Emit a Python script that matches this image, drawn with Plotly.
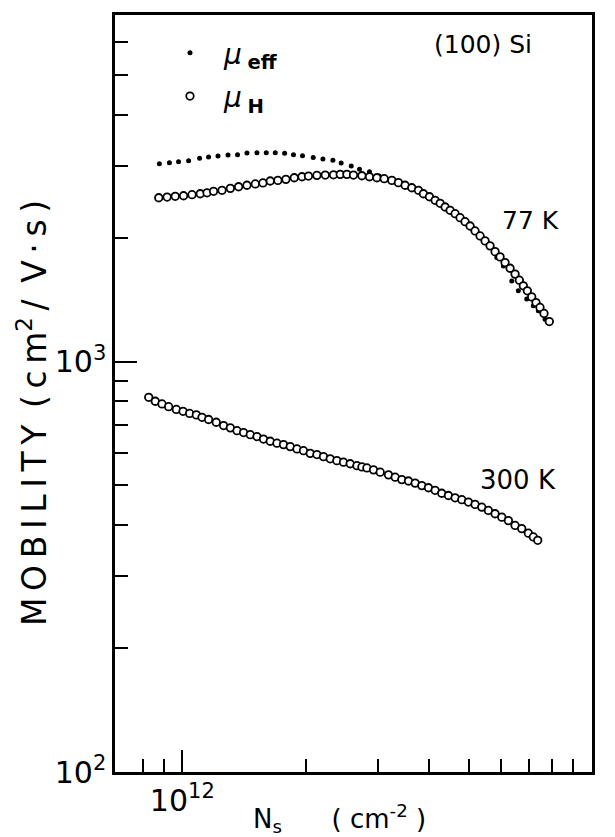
import math
import plotly.graph_objects as go

# ---- data (N_s in units of 1e12 cm^-2, mobility in cm^2/V.s) ----
N_UNIT = 1e12

ns_77_eff = [0.879, 0.930, 0.979, 1.036, 1.102, 1.159, 1.222, 1.293, 1.364, 1.438,
             1.521, 1.603, 1.686, 1.777, 1.868, 1.965, 2.087, 2.204, 2.331, 2.442,
             2.584, 2.707, 2.863, 3.024, 3.198, 3.382, 3.578, 3.764, 3.959, 4.164,
             4.380, 4.607, 4.846, 5.097, 5.361, 5.608, 5.856, 6.077, 6.370, 6.610,
             6.929, 7.192, 7.396, 7.681]
mu_77_eff = [3037, 3054, 3072, 3089, 3131, 3154, 3171, 3189, 3195, 3225,
             3231, 3231, 3231, 3220, 3195, 3177, 3148, 3119, 3096, 3050,
             2999, 2944, 2904, 2835, 2780, 2719, 2659, 2600, 2527, 2451,
             2370, 2291, 2203, 2107, 2003, 1905, 1794, 1712, 1574, 1489,
             1421, 1369, 1331, 1270]

ns_77_hall = [0.876, 0.918, 0.961, 1.007, 1.056, 1.106, 1.149, 1.192, 1.250, 1.310,
              1.372, 1.438, 1.507, 1.573, 1.639, 1.711, 1.790, 1.876, 1.959, 2.032,
              2.131, 2.233, 2.339, 2.429, 2.522, 2.617, 2.744, 2.863, 2.985, 3.110,
              3.247, 3.369, 3.498, 3.632, 3.770, 3.877, 4.011, 4.141, 4.259, 4.380,
              4.505, 4.633, 4.764, 4.900, 5.040, 5.183, 5.331, 5.483, 5.639, 5.800,
              5.965, 6.135, 6.310, 6.490, 6.648, 6.798, 6.953, 7.126, 7.300, 7.466,
              7.636, 7.868]
mu_77_hall = [2510, 2520, 2530, 2538, 2553, 2567, 2581, 2602, 2617, 2646,
              2670, 2692, 2712, 2727, 2757, 2767, 2783, 2808, 2824, 2835,
              2846, 2851, 2855, 2862, 2862, 2851, 2840, 2824, 2808, 2793,
              2767, 2732, 2692, 2655, 2617, 2567, 2524, 2474, 2433, 2383,
              2339, 2295, 2244, 2194, 2142, 2083, 2026, 1970, 1916, 1855,
              1801, 1744, 1690, 1635, 1580, 1531, 1489, 1439, 1394, 1356,
              1311, 1253]

ns_300_hall = [0.828, 0.859, 0.892, 0.926, 0.967, 1.004, 1.042, 1.082, 1.117, 1.159,
               1.210, 1.261, 1.310, 1.360, 1.411, 1.465, 1.521, 1.578, 1.639, 1.702,
               1.766, 1.834, 1.905, 1.976, 2.052, 2.131, 2.211, 2.296, 2.384, 2.474,
               2.569, 2.668, 2.744, 2.822, 2.929, 3.041, 3.186, 3.308, 3.434, 3.565,
               3.701, 3.843, 3.988, 4.141, 4.298, 4.462, 4.633, 4.811, 4.992, 5.183,
               5.383, 5.586, 5.800, 6.024, 6.251, 6.490, 6.737, 6.993, 7.192, 7.371]
mu_300_hall = [819, 801, 789, 777, 765, 757, 748, 742, 732, 723,
               712, 699, 690, 679, 672, 664, 657, 648, 640, 633,
               628, 621, 613, 607, 598, 594, 587, 580, 574, 569,
               564, 558, 554, 551, 545, 538, 530, 523, 516, 512,
               506, 499, 493, 486, 478, 472, 466, 461, 455, 449,
               442, 434, 426, 418, 410, 399, 392, 382, 374, 367]

x_major_vals = [1e12, 1e13]
x_major_text = ["10<sup>12</sup>", "10<sup>13</sup>"]
x_minor_vals = [8e11, 9e11, 2e12, 3e12, 4e12, 5e12, 6e12, 7e12, 8e12, 9e12]
y_major_vals = [1e2, 1e3]
y_major_text = ["10<sup>2</sup>", "10<sup>3</sup>"]
y_minor_vals = [200, 300, 400, 500, 600, 700, 800, 900, 2000, 3000, 4000, 5000, 6000]

FONT = "DejaVu Sans"
TS = "\u2009"  # thin space used for letter spacing


def spaced(s):
    return TS.join(list(s))


fig = go.Figure()
fig.add_trace(go.Scatter(
    x=[v * N_UNIT for v in ns_77_eff], y=mu_77_eff, mode="markers",
    name="\u2002<i>μ</i>\u2009<sub><b>eff</b></sub>", legendgroup="a",
    marker=dict(symbol="circle", size=5, color="black", line=dict(width=0)),
))
fig.add_trace(go.Scatter(
    x=[v * N_UNIT for v in ns_77_hall], y=mu_77_hall, mode="markers",
    name="\u2002<i>μ</i>\u2009<sub><b>H</b></sub>", legendgroup="b",
    marker=dict(symbol="circle", size=7.5, color="white",
                line=dict(width=1.8, color="black")),
))
fig.add_trace(go.Scatter(
    x=[v * N_UNIT for v in ns_300_hall], y=mu_300_hall, mode="markers",
    showlegend=False,
    marker=dict(symbol="circle", size=7.5, color="white",
                line=dict(width=1.8, color="black")),
))

axis_common = dict(
    type="log", showline=True, linecolor="black", linewidth=2.5, mirror=True,
    ticks="inside", ticklen=22, tickwidth=2, tickcolor="black",
    showgrid=False, zeroline=False, tickmode="array",
    tickfont=dict(family=FONT, size=30, color="black"),
)
fig.update_xaxes(
    **axis_common, range=[math.log10(6.85e11), 13],
    tickvals=x_major_vals, ticktext=x_major_text,
    minor=dict(tickmode="array", tickvals=x_minor_vals, ticks="inside",
               ticklen=13, tickwidth=2, tickcolor="black", showgrid=False),
)
fig.update_yaxes(
    **axis_common, range=[2, math.log10(7000)],
    tickvals=y_major_vals, ticktext=y_major_text,
    minor=dict(tickmode="array", tickvals=y_minor_vals, ticks="inside",
               ticklen=13, tickwidth=2, tickcolor="black", showgrid=False),
)

L, R, T, B = 115, 23, 13, 65
W, H = 615, 837
pw, ph = W - L - R, H - T - B


def px(xp):
    return (xp - L) / pw


def py(yp):
    return (H - B - yp) / ph


ytitle = (spaced("MOBILITY") + "\u2002" + spaced("(cm") + "<sup>2</sup>" + TS + "/"
          + "\u2002" + spaced("V·s)"))

fig.update_layout(
    width=W, height=H, margin=dict(l=L, r=R, t=T, b=B),
    plot_bgcolor="white", paper_bgcolor="white",
    font=dict(family=FONT, color="black"),
    showlegend=True,
    legend=dict(x=px(170), y=py(26), xanchor="left", yanchor="top",
                bgcolor="rgba(0,0,0,0)", font=dict(family=FONT, size=28),
                traceorder="grouped", tracegroupgap=4),
    annotations=[
        dict(text="(100) Si", x=px(483), y=py(43), xref="paper", yref="paper",
             showarrow=False, font=dict(size=25), xanchor="center", yanchor="middle"),
        dict(text="77 K", x=px(530), y=py(219), xref="paper", yref="paper",
             showarrow=False, font=dict(size=25), xanchor="center", yanchor="middle"),
        dict(text="300 K", x=px(518), y=py(479), xref="paper", yref="paper",
             showarrow=False, font=dict(size=26), xanchor="center", yanchor="middle"),
        dict(text=ytitle, x=px(33), y=py(412),
             xref="paper", yref="paper", showarrow=False, textangle=-90,
             font=dict(size=33), xanchor="center", yanchor="middle"),
        dict(text="N<sub>s</sub>\u00a0\u00a0\u00a0\u00a0\u00a0\u00a0( cm<sup>-2</sup> )",
             x=px(339), y=py(819), xref="paper", yref="paper", showarrow=False,
             font=dict(size=26), xanchor="center", yanchor="middle"),
    ],
)

fig.write_html(
    "out.html",
    config={"displayModeBar": False},
    post_script="document.body.style.margin='0';document.body.style.padding='0';",
)
